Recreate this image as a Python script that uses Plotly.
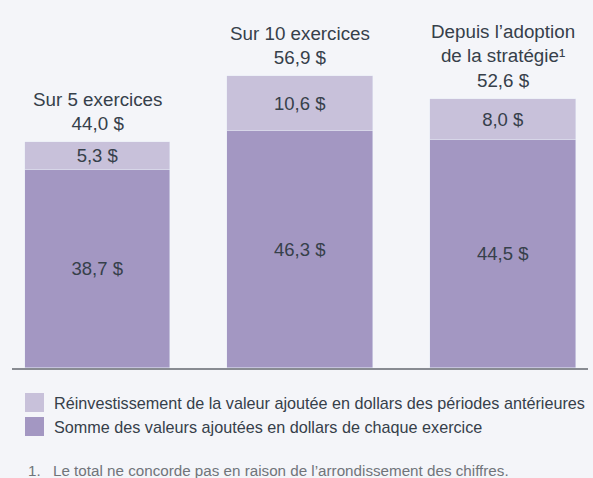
import plotly.graph_objects as go

# data
categories = ["Sur 5 exercices", "Sur 10 exercices", "Depuis l’adoption<br>de la stratégie¹"]
annual_sum = [38.7, 46.3, 44.5]   # Somme des valeurs ajoutées en dollars de chaque exercice
reinvest = [5.3, 10.6, 8.0]       # Réinvestissement de la valeur ajoutée
totals = [44.0, 56.9, 52.6]       # totaux affichés (arrondis)
legend_labels = [
    "Réinvestissement de la valeur ajoutée en dollars des périodes antérieures",
    "Somme des valeurs ajoutées en dollars de chaque exercice",
]
footnote = "Le total ne concorde pas en raison de l’arrondissement des chiffres."

DARK = "#a397c2"
LIGHT = "#c8c1da"
TEXT = "#36404a"
BG = "#f4f5f9"
FONT = "Liberation Sans, Arial, sans-serif"

W, H = 593, 478
L, R, T, B = 12, 5, 10, 110
plot_w = W - L - R
plot_h = H - T - B


def px_x(p):
    return (p - L) / plot_w


def px_y(p):
    return (H - B - p) / plot_h


def fmt(v):
    return f"{v:.1f}".replace(".", ",") + " $"


x = list(range(len(categories)))

fig = go.Figure()
fig.add_trace(go.Bar(x=x, y=annual_sum, marker_color=DARK, width=0.72,
                     texttemplate="%{y:.1f} $", textposition="inside",
                     insidetextanchor="middle", constraintext="none",
                     textfont=dict(size=18.5, color=TEXT), hoverinfo="skip"))
fig.add_trace(go.Bar(x=x, y=reinvest, marker_color=LIGHT, width=0.72,
                     texttemplate="%{y:.1f} $", textposition="inside",
                     insidetextanchor="middle", constraintext="none",
                     textfont=dict(size=18.5, color=TEXT), hoverinfo="skip"))

# headers above each bar
for i, cat in enumerate(categories):
    fig.add_annotation(x=i, y=annual_sum[i] + reinvest[i], text=f"{cat}<br>{fmt(totals[i])}",
                       showarrow=False, yanchor="bottom", yshift=6,
                       font=dict(size=18.8, color=TEXT))

# legend drawn by hand (bigger squares than plotly's)
for j, (lab, col) in enumerate(zip(legend_labels, [LIGHT, DARK])):
    top = 393 + j * 24
    fig.add_shape(type="rect", xref="paper", yref="paper",
                  x0=px_x(25), x1=px_x(44), y0=px_y(top + 19), y1=px_y(top),
                  fillcolor=col, line_width=0)
    fig.add_annotation(xref="paper", yref="paper", x=px_x(52), y=px_y(top + 9.5),
                       xanchor="left", yanchor="middle", text=lab, showarrow=False,
                       font=dict(size=16.2, color=TEXT))

# footnote
fig.add_annotation(xref="paper", yref="paper", x=px_x(26), y=px_y(471),
                   xanchor="left", yanchor="middle", text="1.", showarrow=False,
                   font=dict(size=15.2, color="#70747a"))
fig.add_annotation(xref="paper", yref="paper", x=px_x(51), y=px_y(471),
                   xanchor="left", yanchor="middle", text=footnote, showarrow=False,
                   font=dict(size=15.2, color="#70747a"))

fig.update_layout(
    barmode="stack",
    width=W, height=H,
    margin=dict(l=L, r=R, t=T, b=B),
    paper_bgcolor=BG, plot_bgcolor=BG,
    font=dict(family=FONT, color=TEXT),
    separators=", ",
    showlegend=False,
    bargap=0,
)
fig.update_xaxes(range=[-0.422, 2.42], showgrid=False, zeroline=False,
                 showticklabels=False, ticks="", showline=True,
                 linecolor="#888b92", linewidth=2)
fig.update_yaxes(range=[0, 69.8], showgrid=False, zeroline=False,
                 showticklabels=False, ticks="", showline=False)

# page has a default 8px body margin; drop it so the figure sits at 0,0
fig.write_html("out.html", config={"displayModeBar": False},
               post_script="document.body.style.margin='0';document.body.style.overflow='hidden';")
